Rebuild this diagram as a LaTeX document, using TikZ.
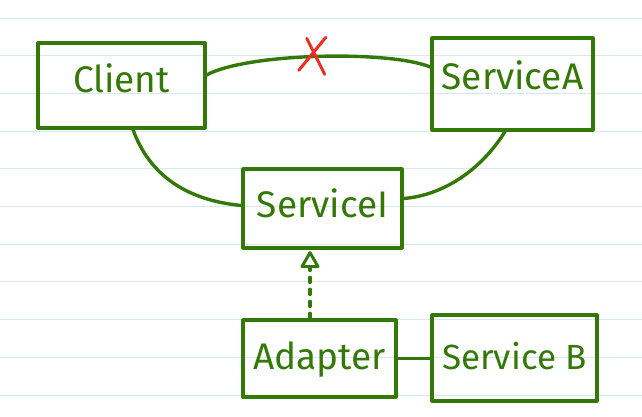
\documentclass[tikz,border=0pt]{standalone}
\usepackage{fontspec}
\setmainfont{Fira Sans}
\usetikzlibrary{arrows.meta}
\definecolor{ink}{RGB}{52,120,8}
\definecolor{ruleblue}{RGB}{214,232,246}
\definecolor{crossred}{RGB}{235,45,35}
\begin{document}
\begin{tikzpicture}[x=1pt,y=-1pt,
  box/.style={draw=ink, line width=3.2pt, line join=round, text=ink,
    font=\fontsize{37}{40}\selectfont, inner sep=0pt, text height=25pt},
  link/.style={draw=ink, line width=3.4pt, line cap=round},
  openhead/.style={draw=ink, line width=3pt, line join=round, fill=white}]
\fill[white] (0,0) rectangle (642,416);
\useasboundingbox (0,0) rectangle (642,416);
\foreach \k in {0,...,10} \draw[ruleblue, line width=1pt] (0,18+37.7*\k) -- (642,18+37.7*\k);

\node[box, minimum width=167pt, minimum height=85pt, text depth=12pt] (client) at (121.5,85.5) {Client};
\node[box, minimum width=161pt, minimum height=92pt, text depth=14pt] (servA) at (512.5,84) {ServiceA};
\node[box, minimum width=159pt, minimum height=79pt, text depth=8pt] (servI) at (322.5,208.5) {ServiceI};
\node[box, minimum width=153pt, minimum height=77pt, text depth=4pt] (adapter) at (319.5,358.5) {Adapter};
\node[box, minimum width=165pt, minimum height=86pt, text depth=2pt, font=\fontsize{35}{40}\selectfont] (servB) at (514.5,358) {Service B};

\draw[link] ([yshift=10.5pt]client.east) .. controls +(40,-22) and +(-42,-17) .. ([yshift=17pt]servA.west) coordinate[pos=0.5] (cut);
\draw[crossred, line width=3pt, line cap=round]
  ([shift={(-19,14)}]cut) -- ([shift={(8,-19)}]cut)
  ([shift={(-11,-18)}]cut) -- ([shift={(7,18)}]cut);

\draw[link] ([xshift=11.5pt]client.south) .. controls +(17,47) and +(-53,-5) .. ([yshift=3pt]servI.west);
\draw[link] ([xshift=-7.5pt]servA.south) .. controls +(-25,40) and +(38,-3) .. ([yshift=10pt]servI.east);

\coordinate (tip) at ([xshift=-9.5pt,yshift=-3pt]adapter.north |- servI.south);
\draw[link, dash pattern=on 5pt off 7pt]
  ([xshift=-9.5pt]adapter.north) -- ([yshift=-14pt]tip);
\draw[openhead] (tip) -- ++(8,14) -- ++(-16,0) -- cycle;

\draw[link] (adapter.east) -- (adapter.east -| servB.west);
\end{tikzpicture}
\end{document}
